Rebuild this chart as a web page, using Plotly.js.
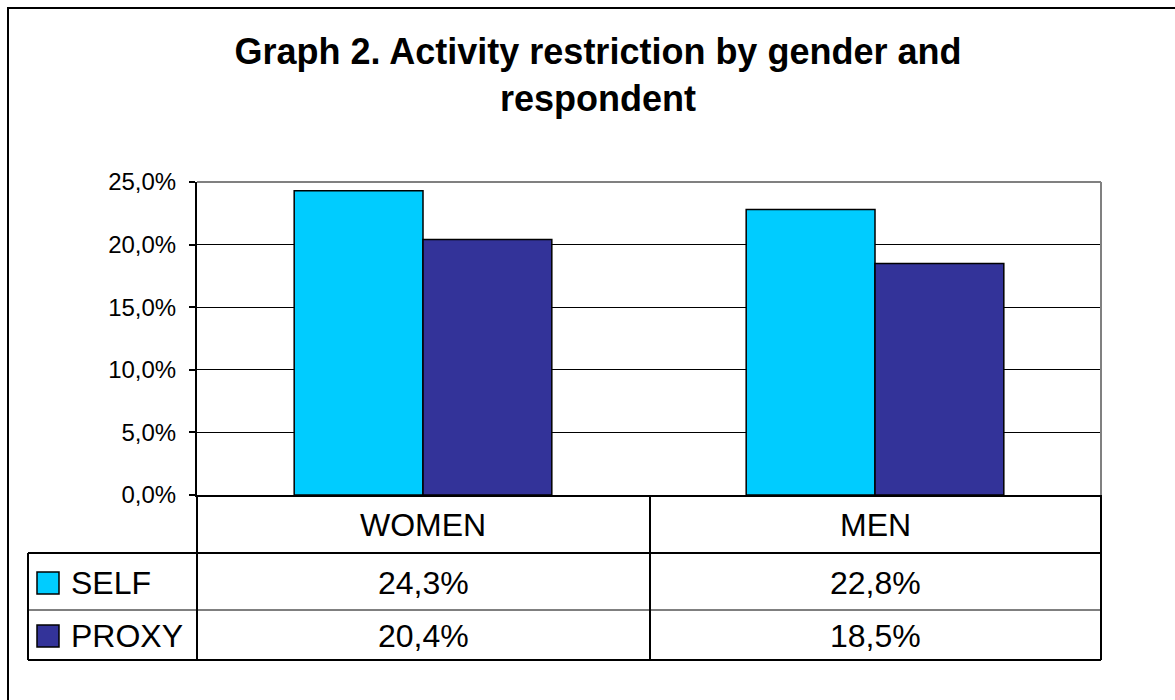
<!DOCTYPE html>
<html>
<head>
<meta charset="utf-8">
<script src="https://cdn.plot.ly/plotly-3.0.1.min.js"></script>
<style>
  html, body { margin: 0; padding: 0; background: #fff; }
  #chart { width: 1175px; height: 700px; }
</style>
</head>
<body>
<div id="chart"></div>
<script>
// Activity restriction (%) by gender, for self and proxy respondents
const categories = ['WOMEN', 'MEN'];
const seriesNames = ['SELF', 'PROXY'];
const selfValues = [24.3, 22.8];
const proxyValues = [20.4, 18.5];
const yTickValues = [0, 5, 10, 15, 20, 25];
const seriesColors = ['#00CCFF', '#333399'];

const seriesValues = [selfValues, proxyValues];
const FONT = 'Arial, "Liberation Sans", sans-serif';

// page geometry helpers (pixel -> paper fraction)
const W = 1175, H = 700;
const M = { l: 197, r: 74, t: 182, b: 205 };
const pw = W - M.l - M.r, ph = H - M.t - M.b;
const px = x => (x - M.l) / pw;
const py = y => (H - M.b - y) / ph;

const fmt = v => v.toFixed(1).replace('.', ',') + '%';

const traces = seriesNames.map((name, i) => ({
  type: 'bar',
  name: name,
  x: categories,
  y: seriesValues[i],
  marker: { color: seriesColors[i], line: { color: '#000', width: 1.5 } },
  hoverinfo: 'x+y+name'
}));

// data table grid lines
function hline(y, x0, x1, w, c) {
  return { type: 'line', xref: 'paper', yref: 'paper', x0: px(x0), x1: px(x1), y0: py(y), y1: py(y),
           line: { color: c || '#000', width: w } };
}
function vline(x, y0, y1, w, c) {
  return { type: 'line', xref: 'paper', yref: 'paper', x0: px(x), x1: px(x), y0: py(y0), y1: py(y1),
           line: { color: c || '#000', width: w } };
}

const shapes = [
  // outer chart frame
  { type: 'rect', xref: 'paper', yref: 'paper', x0: px(8), x1: px(1185), y0: py(8), y1: py(710),
    line: { color: '#000', width: 2 }, fillcolor: 'rgba(0,0,0,0)' },
  // plot area border (top and right)
  hline(182, 197, 1101, 2, '#808080'),
  vline(1101, 182, 495, 2, '#808080'),
  // table
  hline(553, 28, 1101, 2),
  hline(610, 28, 1101, 1),
  hline(660, 28, 1101, 2),
  vline(28, 553, 660, 2),
  vline(197, 495, 660, 2),
  vline(650, 495, 660, 2),
  vline(1101, 495, 660, 2)
];

const rowCenters = [583, 636];
seriesNames.forEach((name, i) => {
  const cy = rowCenters[i];
  shapes.push({ type: 'rect', xref: 'paper', yref: 'paper',
    x0: px(37), x1: px(59), y0: py(cy + 11), y1: py(cy - 11),
    fillcolor: seriesColors[i], line: { color: '#000', width: 1.5 } });
});

const annotations = [];
categories.forEach(c => {
  annotations.push({ xref: 'x', yref: 'paper', x: c, y: py(525), text: c, showarrow: false,
    xanchor: 'center', yanchor: 'middle', font: { family: FONT, size: 32, color: '#000' } });
});
seriesNames.forEach((name, i) => {
  annotations.push({ xref: 'paper', yref: 'paper', x: px(69), y: py(rowCenters[i]), text: name,
    showarrow: false, xanchor: 'left', yanchor: 'middle',
    font: { family: FONT, size: 32, color: '#000' } });
  seriesValues[i].forEach((v, j) => {
    annotations.push({ xref: 'x', yref: 'paper', x: categories[j], y: py(rowCenters[i]), text: fmt(v),
      showarrow: false, xanchor: 'center', yanchor: 'middle',
      font: { family: FONT, size: 32, color: '#000' } });
  });
});

const layout = {
  width: W, height: H,
  margin: M,
  paper_bgcolor: '#fff', plot_bgcolor: '#fff',
  showlegend: false,
  barmode: 'group',
  bargap: 0.43,
  bargroupgap: 0,
  title: {
    text: '<b>Graph 2. Activity restriction by gender and<br>respondent</b>',
    font: { family: FONT, size: 36, color: '#000' },
    xref: 'container', x: 598 / W, xanchor: 'center',
    yref: 'container', y: 1 - 64 / H, yanchor: 'top'
  },
  xaxis: {
    showticklabels: false, ticks: '', showgrid: false, zeroline: false,
    showline: true, linecolor: '#000', linewidth: 2, fixedrange: true
  },
  yaxis: {
    range: [0, 25], tickvals: yTickValues, ticktext: yTickValues.map(fmt),
    ticks: 'outside', ticklen: 6, tickwidth: 2, tickcolor: '#000',
    ticklabelstandoff: 8,
    tickfont: { family: FONT, size: 24, color: '#000' },
    showgrid: true, gridcolor: '#000', gridwidth: 1,
    zeroline: false, showline: true, linecolor: '#000', linewidth: 2, fixedrange: true
  },
  shapes: shapes,
  annotations: annotations
};

Plotly.newPlot('chart', traces, layout, { displayModeBar: false, staticPlot: true });
</script>
</body>
</html>
